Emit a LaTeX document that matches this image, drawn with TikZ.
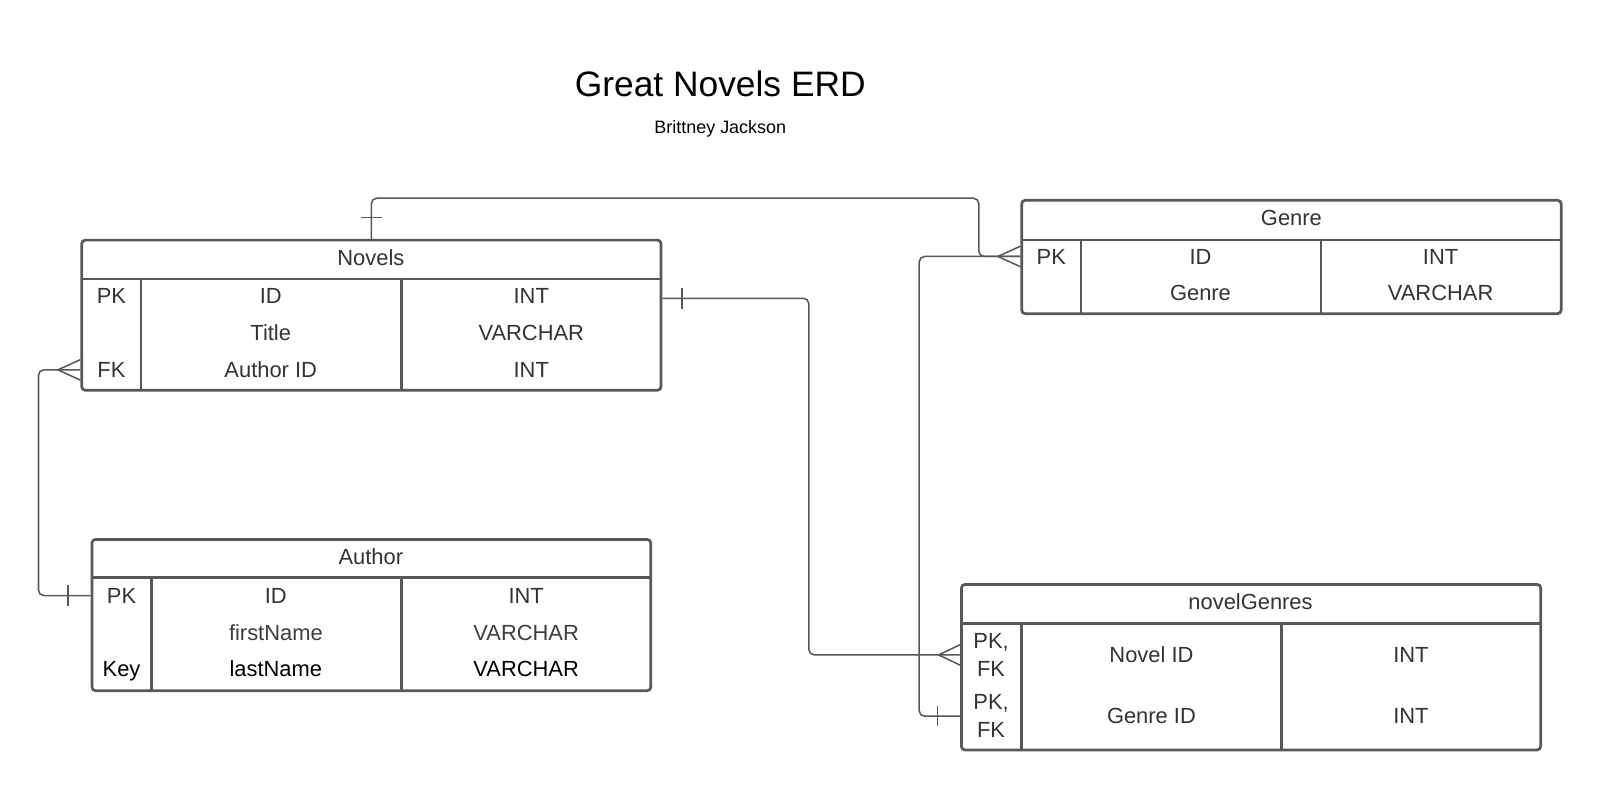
\documentclass[tikz,border=0pt]{standalone}
\usepackage{fontspec}
\setmainfont{Liberation Sans}
\usetikzlibrary{fit,calc}
\definecolor{linegray}{RGB}{88,88,88}
\definecolor{txtgray}{RGB}{51,51,51}
\definecolor{txtlight}{RGB}{62,62,62}

\begin{document}
\begin{tikzpicture}[x=0.02cm,y=-0.02cm,
    tbl/.style={draw=linegray, line width=1.5pt, rounded corners=2pt, inner sep=0pt},
    sep/.style={draw=linegray, line width=1.5pt},
    conn/.style={draw=linegray, line width=0.85pt},
    cell/.style={font=\fontsize{12.2}{15.4}\selectfont, text=txtgray, inner sep=1pt, align=center},
    row/.style={cell, text height=1.9ex, text depth=0.3ex},
    hdr/.style={row}
]
\useasboundingbox (0,0) rectangle (1568,774);

% title
\node[font=\fontsize{19.7}{24}\selectfont] (title) at (705,82) {Great Novels ERD};
\node[font=\fontsize{10}{12}\selectfont] (subtitle) at (705,126) {Brittney Jackson};

% Novels table
\node[tbl, fit={(80,235) (647,382)}] (nov) {};
\draw[sep] (80,273) -- (647,273);
\draw[sep] (138,273) -- (138,382);
\draw[sep] (393,273) -- (393,382);
\node[hdr] (novHead) at (363,252) {Novels};
\foreach \r/\y/\k/\n/\t in {1/290/PK/ID/INT, 2/326//Title/VARCHAR, 3/362/FK/Author ID/INT} {
  \node[row] (novK\r) at (109,\y) {\k};
  \node[row] (novN\r) at (265,\y) {\n};
  \node[row] (novT\r) at (520,\y) {\t};
}

% Genre table
\node[tbl, fit={(1000,196) (1528,307)}] (gen) {};
\draw[sep] (1000,235) -- (1528,235);
\draw[sep] (1058,235) -- (1058,307);
\draw[sep] (1293,235) -- (1293,307);
\node[hdr] (genHead) at (1264,213) {Genre};
\foreach \r/\y/\k/\n/\t in {1/251/PK/ID/INT, 2/287//Genre/VARCHAR} {
  \node[row] (genK\r) at (1029,\y) {\k};
  \node[row] (genN\r) at (1175,\y) {\n};
  \node[row] (genT\r) at (1410,\y) {\t};
}

% Author table
\node[tbl, fit={(90,528) (637,676)}] (aut) {};
\draw[sep] (90,565) -- (637,565);
\draw[sep] (148,565) -- (148,676);
\draw[sep] (393,565) -- (393,676);
\node[hdr] (autHead) at (363,545) {Author};
\foreach \r/\y/\k/\n/\t/\c in {1/583/PK/ID/INT/txtgray, 2/619//firstName/VARCHAR/txtlight, 3/655/Key/lastName/VARCHAR/black} {
  \node[row, text=\c] (autK\r) at (119,\y) {\k};
  \node[row, text=\c] (autN\r) at (270,\y) {\n};
  \node[row, text=\c] (autT\r) at (515,\y) {\t};
}

% novelGenres table
\node[tbl, fit={(941,572) (1508,734)}] (ng) {};
\draw[sep] (941,610) -- (1508,610);
\draw[sep] (1000,610) -- (1000,734);
\draw[sep] (1254,610) -- (1254,734);
\node[hdr] (ngHead) at (1224,589) {novelGenres};
\foreach \r/\y/\n in {1/641/Novel ID, 2/701/Genre ID} {
  \node[cell] (ngK\r) at (970,\y) {PK,\\FK};
  \node[row] (ngN\r) at (1127,\y) {\n};
  \node[row] (ngT\r) at (1381,\y) {INT};
}

% connector ends
\coordinate (novR1) at ($(nov.east |- novK1)+(0,2)$);
\coordinate (novL3) at (nov.west |- novK3);
\coordinate (genL1) at (gen.west |- genK1);
\coordinate (autL1) at (aut.west |- autK1);
\coordinate (ngL1) at (ng.west |- ngK1);
\coordinate (ngL2) at (ng.west |- ngK2);

% Novels -- Genre
\draw[conn, rounded corners=3pt] (nov.north) |- (958,194) |- (genL1);
\draw[conn] ($(nov.north)+(-10,-21)$) -- ++(20,0);
\draw[conn] ($(genL1)+(0,-10)$) -- ++(-22,10) -- ++(22,10);

% Genre -- novelGenres
\draw[conn, rounded corners=3pt] (genL1) -| ($(ngL2)+(-40,0)$) -- (ngL2);
\draw[conn] ($(ngL2)+(-22,-10)$) -- ++(0,20);

% Novels -- novelGenres
\draw[conn, rounded corners=3pt] (novR1) -| ($(ngL1)+(-148,0)$) -- (ngL1);
\draw[conn] ($(novR1)+(19,-10)$) -- ++(0,20);
\draw[conn] ($(ngL1)+(0,-10)$) -- ++(-21,10) -- ++(21,10);

% Novels -- Author
\draw[conn, rounded corners=3pt] (novL3) -| ($(autL1)+(-51,0)$) -- (autL1);
\draw[conn] ($(novL3)+(0,-10)$) -- ++(-22,10) -- ++(22,10);
\draw[conn] ($(autL1)+(-22,-10)$) -- ++(0,20);
\end{tikzpicture}
\end{document}
